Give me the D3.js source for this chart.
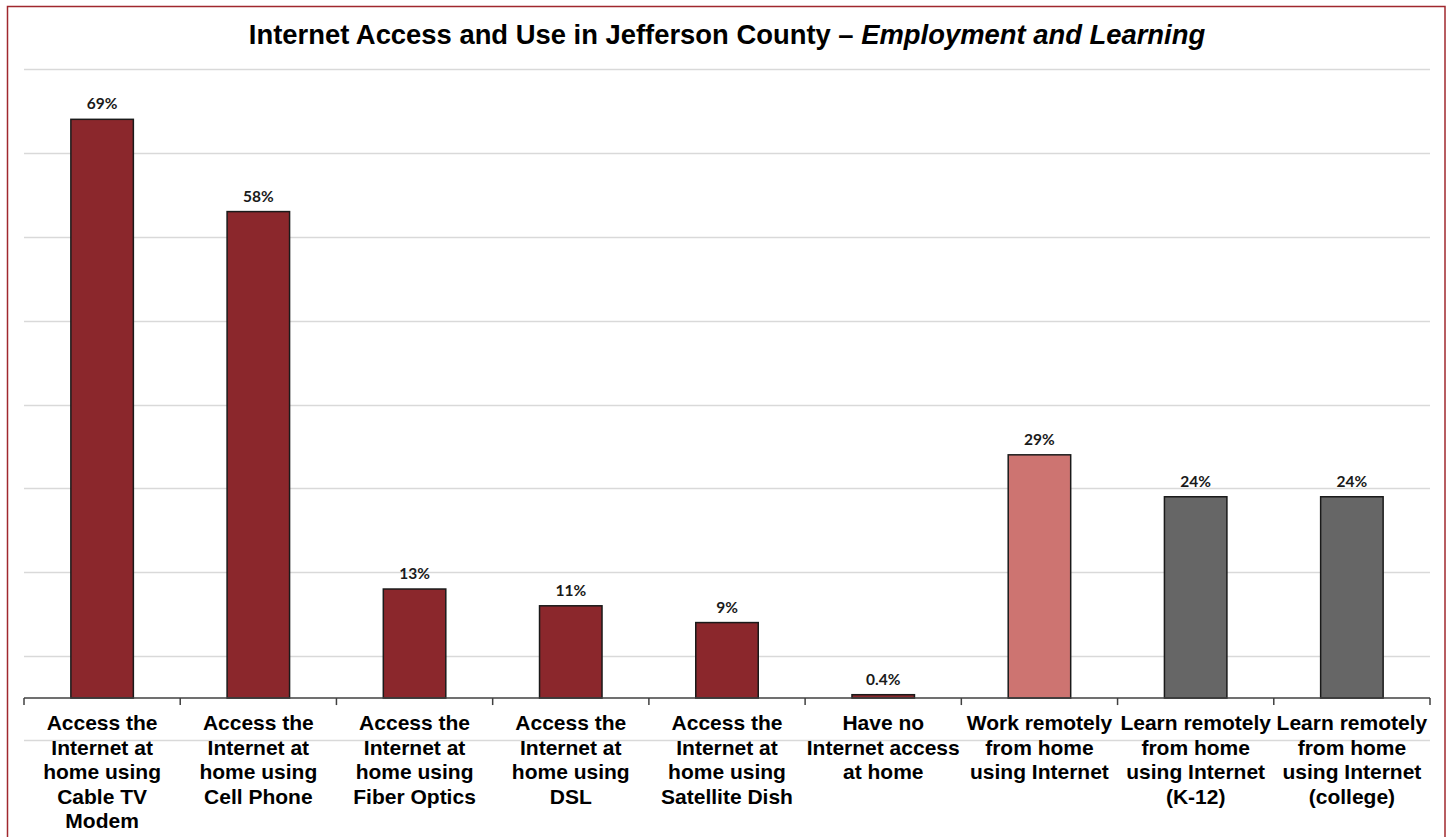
<!DOCTYPE html>
<html>
<head>
<meta charset="utf-8">
<script src="https://cdn.jsdelivr.net/npm/d3@7"></script>
<style>
  html, body { margin: 0; padding: 0; background: #fff; }
  svg { display: block; }
</style>
</head>
<body>
<svg id="chart" width="1448" height="837"></svg>
<script>
// Survey categories (each label split into its display lines)
const categories = [
  ["Access the", "Internet at", "home using", "Cable TV", "Modem"],
  ["Access the", "Internet at", "home using", "Cell Phone"],
  ["Access the", "Internet at", "home using", "Fiber Optics"],
  ["Access the", "Internet at", "home using", "DSL"],
  ["Access the", "Internet at", "home using", "Satellite Dish"],
  ["Have no", "Internet access", "at home"],
  ["Work remotely", "from home", "using Internet"],
  ["Learn remotely", "from home", "using Internet", "(K-12)"],
  ["Learn remotely", "from home", "using Internet", "(college)"]
];
// Share of respondents, percent
const values = [69, 58, 13, 11, 9, 0.4, 29, 24, 24];
const valueLabels = ["69%", "58%", "13%", "11%", "9%", "0.4%", "29%", "24%", "24%"];
// Bar group: access, work, learn
const groups = ["access", "access", "access", "access", "access", "access", "work", "learn", "learn"];
const gridValues = [-5, 5, 15, 25, 35, 45, 55, 65, 75];

const colors = { access: "#8B272C", work: "#CD7471", learn: "#666666" };

const svg = d3.select("#chart");
const plot = { left: 24, right: 1430, top: 69, bottom: 740 };

// Outer frame
svg.append("rect")
  .attr("x", 7.5).attr("y", 6.5)
  .attr("width", 1437.5).attr("height", 840)
  .attr("fill", "none")
  .attr("stroke", "#A0282E")
  .attr("stroke-width", 1.5);

const x = d3.scaleBand()
  .domain(d3.range(categories.length))
  .range([plot.left, plot.right])
  .paddingInner(0.6)
  .paddingOuter(0.3);

const y = d3.scaleLinear()
  .domain([-5, 75])
  .range([plot.bottom, plot.top]);

// Horizontal gridlines
svg.append("g")
  .selectAll("line")
  .data(gridValues)
  .join("line")
  .attr("x1", plot.left).attr("x2", plot.right)
  .attr("y1", d => Math.round(y(d)) + 0.5)
  .attr("y2", d => Math.round(y(d)) + 0.5)
  .attr("stroke", "#D9D9D9")
  .attr("stroke-width", 1.5);

// Bars
svg.append("g")
  .selectAll("rect")
  .data(values)
  .join("rect")
  .attr("x", (d, i) => x(i))
  .attr("y", d => y(d))
  .attr("width", x.bandwidth())
  .attr("height", d => y(0) - y(d))
  .attr("fill", (d, i) => colors[groups[i]])
  .attr("stroke", "#1a1a1a")
  .attr("stroke-width", 1.5);

// Category axis along zero
const step = (plot.right - plot.left) / categories.length;
const axisG = svg.append("g");
axisG.append("line")
  .attr("x1", plot.left).attr("x2", plot.right)
  .attr("y1", y(0)).attr("y2", y(0))
  .attr("stroke", "#404040").attr("stroke-width", 1.5);
axisG.selectAll("line.tick")
  .data(d3.range(categories.length + 1))
  .join("line")
  .attr("class", "tick")
  .attr("x1", i => plot.left + i * step)
  .attr("x2", i => plot.left + i * step)
  .attr("y1", y(0)).attr("y2", y(0) + 7)
  .attr("stroke", "#404040").attr("stroke-width", 1.5);

// Category labels
const labelG = svg.append("g")
  .attr("font-family", "Liberation Sans, Arial, sans-serif")
  .attr("font-weight", "bold")
  .attr("font-size", 21)
  .attr("fill", "#000")
  .attr("text-anchor", "middle");
labelG.selectAll("text")
  .data(categories)
  .join("text")
  .attr("transform", (d, i) => `translate(${x(i) + x.bandwidth() / 2},${y(0) + 32})`)
  .selectAll("tspan")
  .data(d => d)
  .join("tspan")
  .attr("x", 0)
  .attr("dy", (d, j) => j === 0 ? 0 : 24.5)
  .text(d => d);

// Value labels above bars
svg.append("g")
  .attr("font-family", "Lato, Open Sans, sans-serif")
  .attr("font-weight", "bold")
  .attr("font-size", 15.5)
  .attr("fill", "#1a1a1a")
  .attr("text-anchor", "middle")
  .selectAll("text")
  .data(values)
  .join("text")
  .attr("x", (d, i) => x(i) + x.bandwidth() / 2)
  .attr("y", d => y(d) - 10)
  .text((d, i) => valueLabels[i]);

// Title
const title = svg.append("text")
  .attr("x", 727).attr("y", 44)
  .attr("text-anchor", "middle")
  .attr("font-family", "Liberation Sans, Arial, sans-serif")
  .attr("font-weight", "bold")
  .attr("font-size", 27.4)
  .attr("fill", "#000");
title.append("tspan").text("Internet Access and Use in Jefferson County – ");
title.append("tspan").attr("font-style", "italic").text("Employment and Learning");
</script>
</body>
</html>
